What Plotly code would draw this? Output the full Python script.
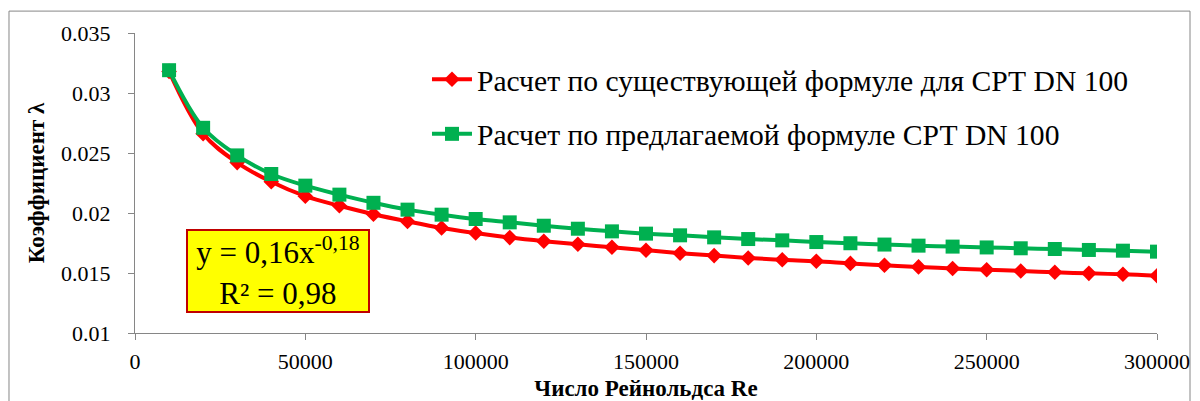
import plotly.graph_objects as go

# Reynolds numbers
re_values = [10000, 20000, 30000, 40000, 50000, 60000, 70000, 80000, 90000, 100000,
             110000, 120000, 130000, 140000, 150000, 160000, 170000, 180000, 190000, 200000,
             210000, 220000, 230000, 240000, 250000, 260000, 270000, 280000, 290000, 300000]

# Friction coefficient, existing formula
lambda_existing = [0.0318, 0.0266, 0.0242, 0.0226, 0.0214, 0.0206, 0.0199, 0.0193, 0.01875, 0.01833,
                   0.01795, 0.01765, 0.01740, 0.01714, 0.01690, 0.01665, 0.01645, 0.01625, 0.01610, 0.01598,
                   0.01580, 0.01564, 0.01551, 0.01538, 0.01527, 0.01517, 0.01506, 0.01497, 0.01489, 0.01477]

# Friction coefficient, proposed formula
lambda_proposed = [0.0319, 0.0271, 0.0248, 0.02325, 0.02228, 0.02153, 0.02085, 0.02028, 0.01986, 0.01950,
                   0.01922, 0.01894, 0.01869, 0.01847, 0.01828, 0.01814, 0.01797, 0.01783, 0.01772, 0.01758,
                   0.01748, 0.01737, 0.01728, 0.01720, 0.01713, 0.01706, 0.01700, 0.01692, 0.01686, 0.01678]

x_ticks = [0, 50000, 100000, 150000, 200000, 250000, 300000]
y_ticks = [0.01, 0.015, 0.02, 0.025, 0.03, 0.035]
y_tick_labels = ["0.01", "0.015", "0.02", "0.025", "0.03", "0.035"]

serif = "Liberation Serif"

fig = go.Figure()
fig.add_trace(go.Scatter(
    x=re_values, y=lambda_existing, mode="lines+markers",
    name="Расчет по существующей формуле для СРТ DN 100",
    line=dict(color="#ff0000", width=4, shape="spline"),
    marker=dict(symbol="diamond", size=12, color="#ff0000"),
    legend="legend",
))
fig.add_trace(go.Scatter(
    x=re_values, y=lambda_proposed, mode="lines+markers",
    name="Расчет по предлагаемой формуле СРТ DN 100",
    line=dict(color="#00b050", width=4, shape="spline"),
    marker=dict(symbol="square", size=14, color="#00b050"),
    legend="legend2",
))

legend_style = dict(
    xanchor="left", yanchor="middle",
    font=dict(family=serif, size=29.6, color="black"),
    bgcolor="rgba(0,0,0,0)", itemwidth=40,
)

axis_style = dict(
    showgrid=False, zeroline=False, showline=True, linecolor="#868686", linewidth=1,
    ticks="outside", ticklen=6, tickcolor="#868686",
    tickfont=dict(family=serif, size=22, color="black"),
    automargin=False,
)

fig.update_layout(
    width=1200, height=401,
    margin=dict(l=135, r=43, t=33, b=68),
    paper_bgcolor="white", plot_bgcolor="white",
    font=dict(family=serif, size=20, color="black"),
    showlegend=True,
    legend=dict(x=0.2857, y=0.845, **legend_style),
    legend2=dict(x=0.2857, y=0.663, **legend_style),
    xaxis=dict(
        range=[0, 300000], tickvals=x_ticks, ticktext=[str(v) for v in x_ticks],
        ticklabelstandoff=3,
        title=dict(text="<b>Число Рейнольдса Re</b>", font=dict(family=serif, size=23), standoff=8),
        **axis_style,
    ),
    yaxis=dict(
        range=[0.01, 0.035], tickvals=y_ticks, ticktext=y_tick_labels,
        ticklabelstandoff=13,
        title=dict(text="<b>Коэффициент λ</b>", font=dict(family=serif, size=23), standoff=10),
        **axis_style,
    ),
    shapes=[dict(
        type="rect", xref="paper", yref="paper",
        x0=-0.1233, x1=1.0323, y0=-0.26, y1=1.073,
        line=dict(color="#868686", width=1), layer="below",
    )],
    annotations=[dict(
        xref="paper", yref="paper", x=0.1404, y=0.2083, xanchor="center", yanchor="middle",
        text="y = 0,16x<sup>-0,18</sup><br>R² = 0,98",
        showarrow=False, align="center",
        font=dict(family=serif, size=31, color="black"),
        width=176, height=76,
        bgcolor="#ffff00", bordercolor="#c00000", borderwidth=2, borderpad=2,
    )],
)

fig.write_html("out.html")
